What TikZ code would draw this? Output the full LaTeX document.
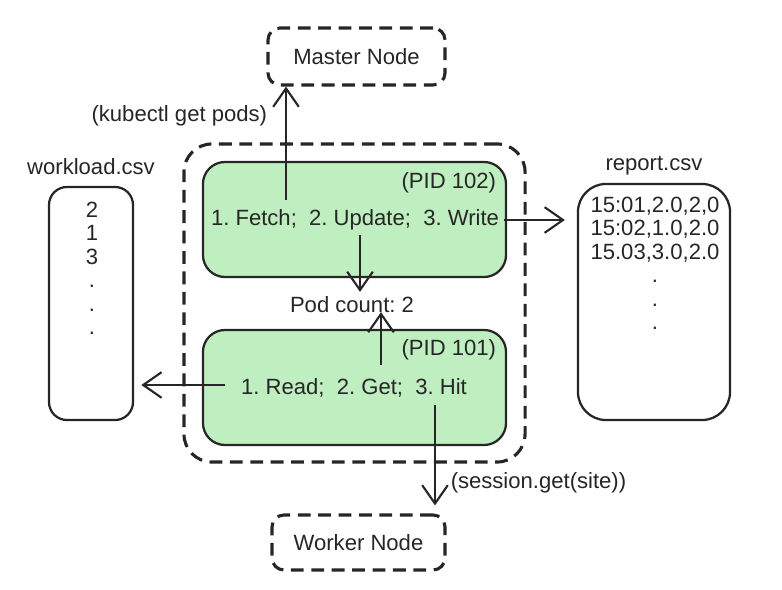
\documentclass[tikz,border=0pt]{standalone}
\usepackage{fontspec}
\setmainfont{Liberation Sans}
\usetikzlibrary{arrows.meta, positioning}
\definecolor{podgreen}{HTML}{BFEFC0}
\definecolor{inkdark}{HTML}{262626}
\frenchspacing

\begin{document}
\begin{tikzpicture}[
    x=0.025cm, y=-0.025cm,
    every node/.style={font=\fontsize{15.7}{16.7}\selectfont, text=inkdark},
    >={Straight Barb[length=4.6mm, width=6.4mm]},
    hostbox/.style={draw=inkdark, dash pattern=on 3.2mm off 1.9mm, line width=2.2pt, rounded corners=3mm},
    podbox/.style={draw=inkdark, fill=podgreen, line width=1.6pt, rounded corners=5.5mm,
                   minimum width=7.575cm, minimum height=2.875cm},
    filebox/.style={draw=inkdark, line width=1.6pt},
    flow/.style={->, draw=inkdark, line width=1.5pt},
]

\useasboundingbox (0,0) rectangle (782,590);

% Hosts
\node[hostbox, minimum width=4.425cm, minimum height=1.425cm] (master) at (356.5,56.5) {Master Node};
\node[hostbox, minimum width=4.325cm, minimum height=1.375cm] (worker) at (358.5,542.5) {Worker Node};

% Pod container
\node[hostbox, rounded corners=7mm, minimum width=8.525cm, minimum height=7.95cm] (container) at (354.5,303) {};

% Processes
\node[podbox] (pod102) at (354.5,219.5) {};
\node[podbox] (pod101) at (354.5,387.5) {};
\node[anchor=east] (pid102) at (501,183) {(PID 102)};
\node (writer) at (355,220) {1. Fetch;~ 2. Update;~ 3. Write};
\node[anchor=east] (pid101) at (501,350) {(PID 101)};
\node (reader) at (354,388) {1. Read;~ 2. Get;~ 3. Hit};
\node (podcount) at (352,305) {Pod count: 2};

% Files
\node[filebox, rounded corners=4.5mm, minimum width=2.1cm, minimum height=5.825cm] (workload) at (91,303.5) {};
\node[above=1.5mm of workload] (workloadlabel) {workload.csv};
\node[anchor=north, align=center] (workrows) at (92,197) {2\\1\\3\\.\\.\\.};

\node[filebox, rounded corners=7mm, minimum width=3.8cm, minimum height=5.9cm] (report) at (654,302) {};
\node[above=0.6mm of report] (reportlabel) {report.csv};
\node[anchor=north, align=center] (reportrows) at (655,192) {15:01,2.0,2,0\\15:02,1.0,2.0\\15.03,3.0,2.0\\.\\.\\.};

% Connectors
\coordinate (fetchfoot) at (286,200);
\coordinate (updatefoot) at (360,235);
\coordinate (getfoot) at (381,365);
\coordinate (readfoot) at (225,385);
\coordinate (hitfoot) at (435,405);

\draw[flow] (fetchfoot) -- (fetchfoot |- master.south)
    node[pos=0.74, left=3.3mm] (kubectl) {(kubectl get pods)};
\draw[flow, shorten >=3mm] (writer.east) -- (writer.east -| report.west);
\draw[flow] (updatefoot) -- (updatefoot |- podcount.north);
\draw[flow, shorten >=-1.5mm] (getfoot) -- (getfoot |- podcount.south);
\draw[flow, shorten >=1.8mm] (readfoot) -- (readfoot -| workload.east);
\draw[flow, shorten >=2mm] (hitfoot) -- (hitfoot |- worker.north)
    node[pos=0.72, right=2.5mm] (session) {(session.get(site))};

\end{tikzpicture}
\end{document}
